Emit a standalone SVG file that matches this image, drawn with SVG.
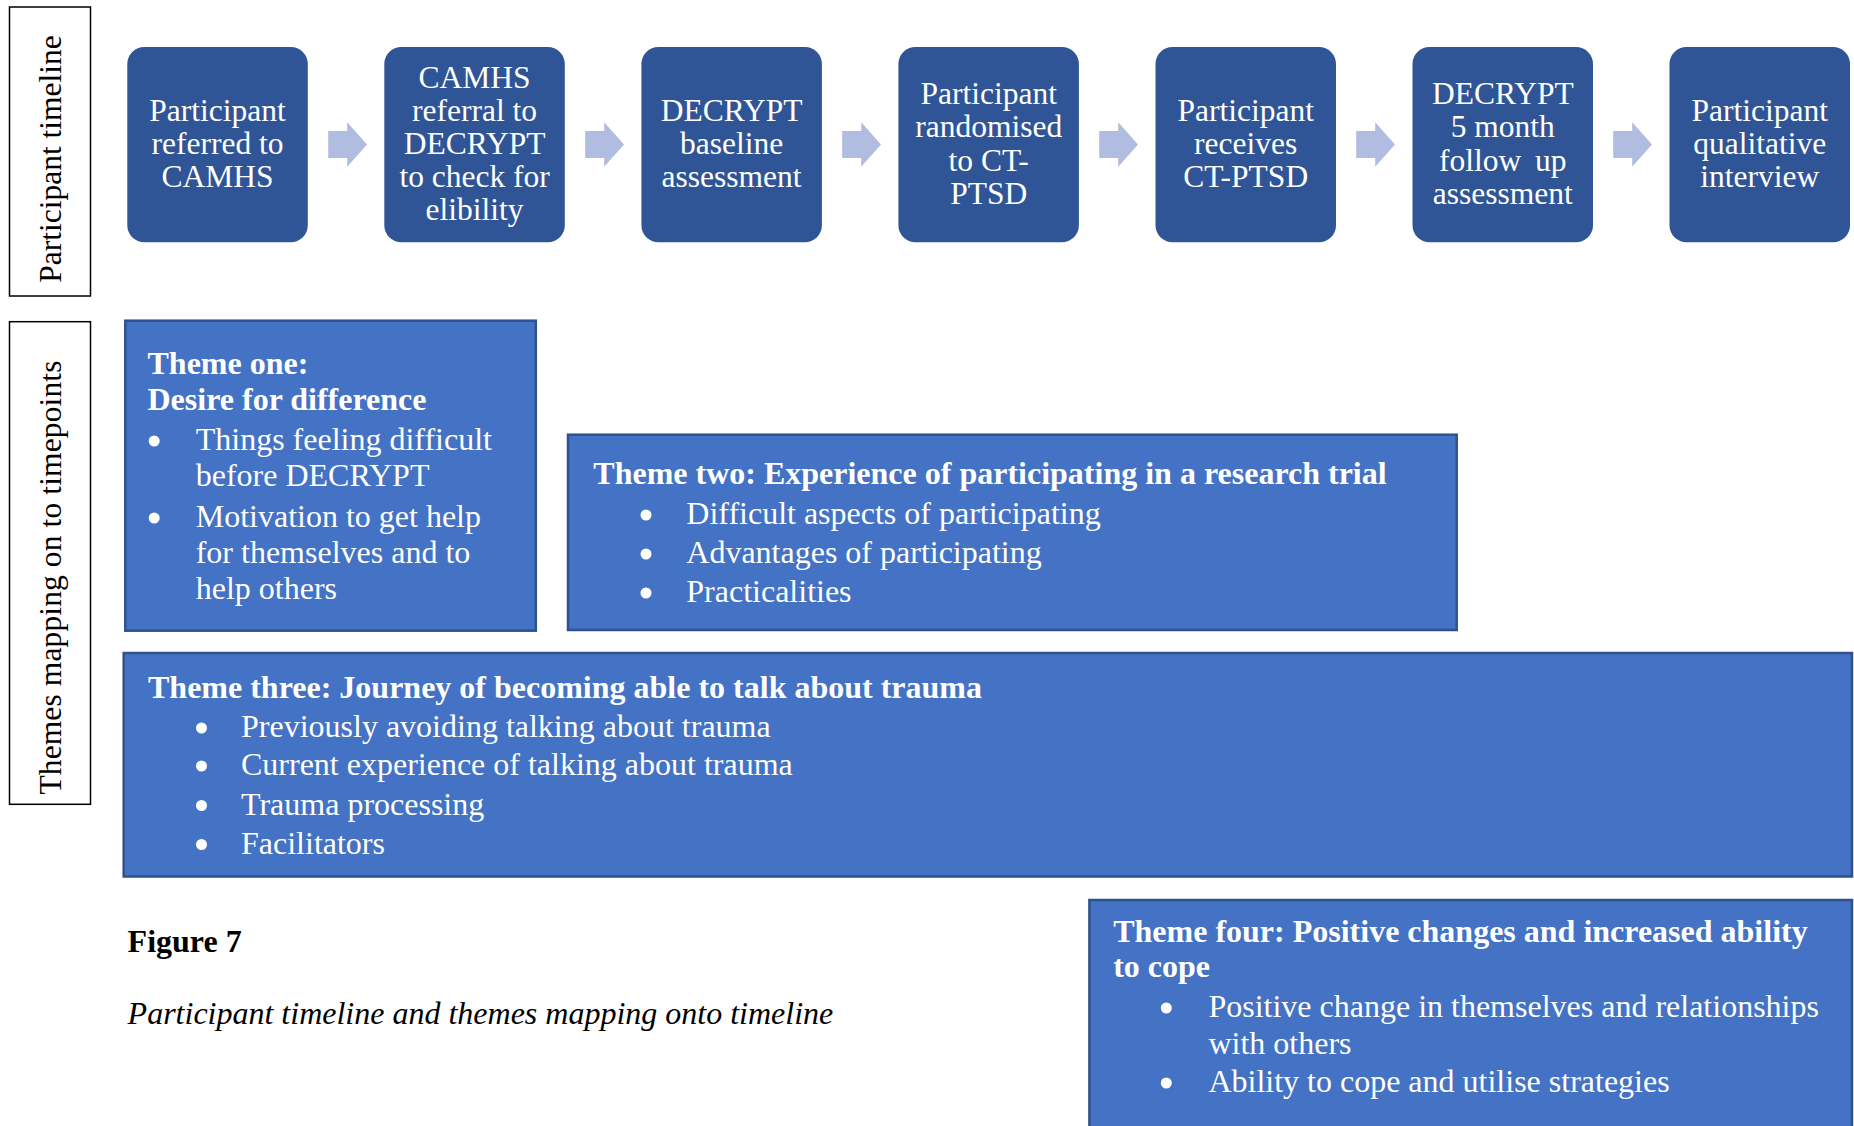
<svg xmlns="http://www.w3.org/2000/svg" xmlns:xlink="http://www.w3.org/1999/xlink" width="1854" height="1126" viewBox="0 0 1854 1126">
  <style>
    text { font-family: "Liberation Serif", "Times New Roman", serif; }
    .side rect { fill: #ffffff; stroke: #000000; stroke-width: 1.5; }
    .side text { font-size: 31.5px; fill: #000000; text-anchor: middle; }
    .step rect { fill: #2F5597; }
    .step text { font-size: 31.5px; fill: #ffffff; text-anchor: middle; }
    .theme rect { fill: #4472C4; stroke: #2F528F; stroke-width: 2.5; }
    .theme text { font-size: 32px; fill: #ffffff; }
    .theme .title { font-weight: bold; }
    .theme circle { fill: #ffffff; }
    .arrow { fill: #B0BCE0; }
    .caption { font-size: 32px; fill: #000000; }
  </style>
  <defs>
    <!-- block arrow between timeline steps, origin at left-middle -->
    <path id="blockArrow" d="M0,-13.5 H19 V-22.2 L38.8,0 L19,22.2 V13.5 H0 Z"/>
  </defs>

  <rect x="0" y="0" width="1854" height="1126" fill="#ffffff"/>

  <!-- row labels -->
  <g id="label-timeline" class="side">
    <rect x="9.5" y="7" width="81" height="289"/>
    <text transform="translate(61,159) rotate(-90)">Participant timeline</text>
  </g>
  <g id="label-themes" class="side">
    <rect x="9.5" y="321.7" width="81" height="482.6"/>
    <text transform="translate(61,577.6) rotate(-90)" textLength="434" lengthAdjust="spacing">Themes mapping on to timepoints</text>
  </g>

  <!-- timeline steps -->
  <g id="step-1" class="step">
    <rect x="127.3" y="47" width="180.5" height="195.3" rx="17"/>
    <text><tspan x="217.5" y="121">Participant</tspan><tspan x="217.5" y="154">referred to</tspan><tspan x="217.5" y="187">CAMHS</tspan></text>
  </g>
  <g id="step-2" class="step">
    <rect x="384.3" y="47" width="180.5" height="195.3" rx="17"/>
    <text><tspan x="474.6" y="88">CAMHS</tspan><tspan x="474.6" y="121">referral to</tspan><tspan x="474.6" y="154">DECRYPT</tspan><tspan x="474.6" y="187">to check for</tspan><tspan x="474.6" y="220">elibility</tspan></text>
  </g>
  <g id="step-3" class="step">
    <rect x="641.4" y="47" width="180.5" height="195.3" rx="17"/>
    <text><tspan x="731.6" y="121">DECRYPT</tspan><tspan x="731.6" y="154">baseline</tspan><tspan x="731.6" y="187">assessment</tspan></text>
  </g>
  <g id="step-4" class="step">
    <rect x="898.4" y="47" width="180.5" height="195.3" rx="17"/>
    <text><tspan x="988.7" y="104">Participant</tspan><tspan x="988.7" y="137">randomised</tspan><tspan x="988.7" y="171">to CT-</tspan><tspan x="988.7" y="204">PTSD</tspan></text>
  </g>
  <g id="step-5" class="step">
    <rect x="1155.5" y="47" width="180.5" height="195.3" rx="17"/>
    <text><tspan x="1245.7" y="121">Participant</tspan><tspan x="1245.7" y="154">receives</tspan><tspan x="1245.7" y="187">CT-PTSD</tspan></text>
  </g>
  <g id="step-6" class="step">
    <rect x="1412.5" y="47" width="180.5" height="195.3" rx="17"/>
    <text><tspan x="1502.8" y="104">DECRYPT</tspan><tspan x="1502.8" y="137">5 month</tspan><tspan x="1502.8" y="171" word-spacing="6">follow up</tspan><tspan x="1502.8" y="204">assessment</tspan></text>
  </g>
  <g id="step-7" class="step">
    <rect x="1669.5" y="47" width="180.5" height="195.3" rx="17"/>
    <text><tspan x="1759.8" y="121">Participant</tspan><tspan x="1759.8" y="154">qualitative</tspan><tspan x="1759.8" y="187">interview</tspan></text>
  </g>

  <!-- connectors: block arrows between consecutive steps -->
  <g id="connectors" class="arrow">
    <use xlink:href="#blockArrow" href="#blockArrow" x="328.2" y="144.5"/>
    <use xlink:href="#blockArrow" href="#blockArrow" x="585.2" y="144.5"/>
    <use xlink:href="#blockArrow" href="#blockArrow" x="842.2" y="144.5"/>
    <use xlink:href="#blockArrow" href="#blockArrow" x="1099.2" y="144.5"/>
    <use xlink:href="#blockArrow" href="#blockArrow" x="1356.2" y="144.5"/>
    <use xlink:href="#blockArrow" href="#blockArrow" x="1613.2" y="144.5"/>
  </g>

  <!-- themes -->
  <g id="theme-one" class="theme">
    <rect x="125.3" y="320.7" width="410.5" height="310"/>
    <text class="title"><tspan x="147.5" y="374">Theme one:</tspan><tspan x="147.5" y="410">Desire for difference</tspan></text>
    <circle cx="154.2" cy="441" r="5.5"/>
    <text><tspan x="195.7" y="450">Things feeling difficult</tspan><tspan x="195.7" y="486">before DECRYPT</tspan></text>
    <circle cx="154.2" cy="518" r="5.5"/>
    <text><tspan x="195.7" y="527">Motivation to get help</tspan><tspan x="195.7" y="562.5">for themselves and to</tspan><tspan x="195.7" y="598.5">help others</tspan></text>
  </g>

  <g id="theme-two" class="theme">
    <rect x="568" y="434.7" width="888.7" height="195.3"/>
    <text class="title" x="593.3" y="484">Theme two: Experience of participating in a research trial</text>
    <circle cx="646" cy="515" r="5.5"/>
    <text x="686.3" y="524">Difficult aspects of participating</text>
    <circle cx="646" cy="554" r="5.5"/>
    <text x="686.3" y="563">Advantages of participating</text>
    <circle cx="646" cy="593" r="5.5"/>
    <text x="686.3" y="602">Practicalities</text>
  </g>

  <g id="theme-three" class="theme">
    <rect x="123.7" y="653" width="1728.3" height="223.5"/>
    <text class="title" x="148" y="698.3">Theme three: Journey of becoming able to talk about trauma</text>
    <circle cx="201.5" cy="728" r="5.5"/>
    <text x="241" y="737">Previously avoiding talking about trauma</text>
    <circle cx="201.5" cy="766" r="5.5"/>
    <text x="241" y="775">Current experience of talking about trauma</text>
    <circle cx="201.5" cy="805.5" r="5.5"/>
    <text x="241" y="814.5">Trauma processing</text>
    <circle cx="201.5" cy="844.5" r="5.5"/>
    <text x="241" y="853.5">Facilitators</text>
  </g>

  <g id="theme-four" class="theme">
    <rect x="1089.4" y="900" width="762.6" height="240"/>
    <text class="title"><tspan x="1113.2" y="941.7">Theme four: Positive changes and increased ability</tspan><tspan x="1113.2" y="976.7">to cope</tspan></text>
    <circle cx="1166.3" cy="1008" r="5.5"/>
    <text><tspan x="1208.4" y="1017">Positive change in themselves and relationships</tspan><tspan x="1208.4" y="1053.5">with others</tspan></text>
    <circle cx="1166.3" cy="1083" r="5.5"/>
    <text x="1208.4" y="1092">Ability to cope and utilise strategies</text>
  </g>

  <!-- figure caption -->
  <g id="figure-caption">
    <text class="caption" x="127.6" y="951.7" font-weight="bold" font-size="31">Figure 7</text>
    <text class="caption" x="127.6" y="1024" font-style="italic">Participant timeline and themes mapping onto timeline</text>
  </g>
</svg>
